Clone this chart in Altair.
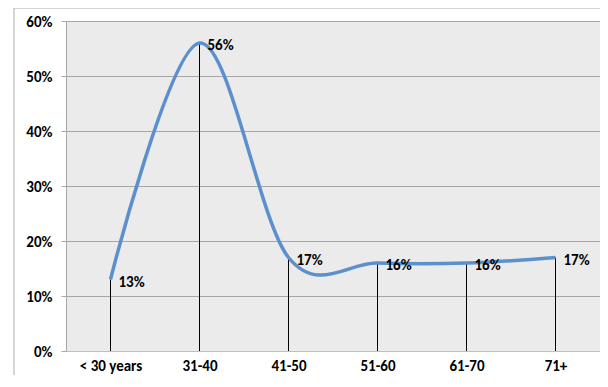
import altair as alt
import pandas as pd

categories = ["< 30 years", "31-40", "41-50", "51-60", "61-70", "71+"]
values = [0.13, 0.56, 0.17, 0.16, 0.16, 0.17]
labels = ["13%", "56%", "17%", "16%", "16%", "17%"]

df = pd.DataFrame({"cat": categories, "val": values, "lbl": labels})
FONT = "Carlito, Calibri, Lato, sans-serif"
FS = 15

x = alt.X("cat:N", sort=categories, title=None,
          scale=alt.Scale(type="point", padding=0.5),
          axis=alt.Axis(labelAngle=0, ticks=False, labelPadding=7, labelFont=FONT,
                        labelFontSize=FS, labelFontWeight="bold", labelColor="#000000",
                        labelBaseline="top",
                        domainColor="#BFBFBF", grid=False))
y = alt.Y("val:Q", title=None,
          scale=alt.Scale(domain=[0, 0.6], nice=False),
          axis=alt.Axis(values=[0, 0.1, 0.2, 0.3, 0.4, 0.5, 0.6], format=".0%",
                        labelFont=FONT, labelFontSize=FS, labelFontWeight="bold",
                        labelColor="#000000", tickSize=5, tickColor="#A6A6A6",
                        labelPadding=9, domainColor="#A6A6A6",
                        grid=True, gridColor="#A6A6A6", gridWidth=1))

base = alt.Chart(df)
first = alt.datum.cat == categories[0]

border = base.mark_rect(fill=None, stroke="#C8C8C8", strokeWidth=1.5, clip=False).encode(
    x=alt.value(-52), x2=alt.value(560), y=alt.value(-13), y2=alt.value(400)
).transform_filter(first)

rules = base.mark_rule(color="#000000", strokeWidth=1).encode(
    x=x, y=y, y2=alt.datum(0)
)

line = base.mark_line(interpolate="cardinal", tension=0, color="#5B90CC", strokeWidth=3.5).encode(
    x=x, y=y
)

text = base.mark_text(align="left", baseline="middle", dx=8, dy=2, font=FONT,
                      fontSize=FS, fontWeight="bold", color="#000000").encode(
    x=x, y=y, text="lbl:N"
)

chart = alt.layer(border, rules, line, text).properties(
    width=534, height=330,
    background="#FFFFFF",
    autosize=alt.AutoSizeParams(type="none"),
    padding={"left": 58, "top": 13, "right": 0, "bottom": 24},
).configure_view(fill="#EBEBEB", stroke=None)

chart.save("out.html", embed_options={"renderer": "svg", "actions": False})
